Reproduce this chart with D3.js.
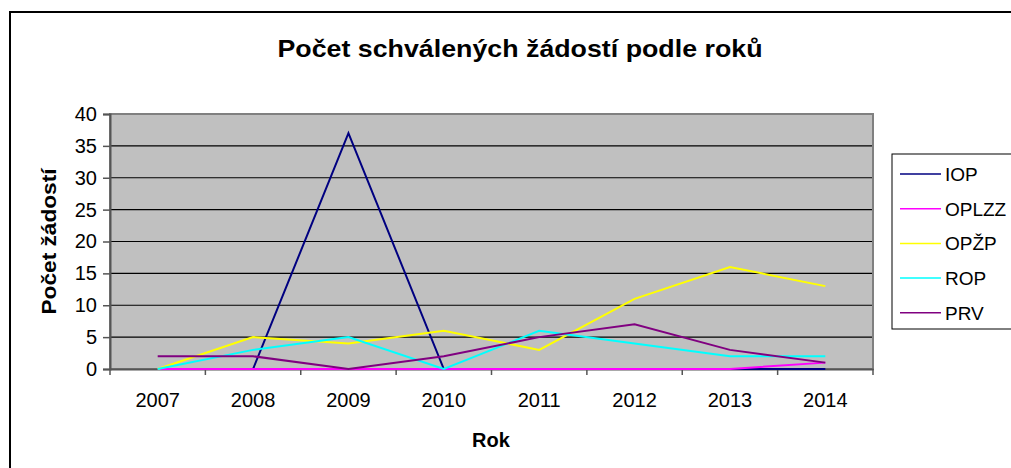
<!DOCTYPE html>
<html lang="cs">
<head>
<meta charset="UTF-8">
<title>Počet schválených žádostí podle roků</title>
<script src="https://d3js.org/d3.v7.min.js"></script>
<style>
  body { margin: 0; background: #fff; }
  svg { display: block; font-family: "Liberation Sans", Arial, sans-serif; }
</style>
</head>
<body>
<svg width="1011" height="468"></svg>
<script>
// data
var years = ["2007", "2008", "2009", "2010", "2011", "2012", "2013", "2014"];
var seriesNames = ["IOP", "OPLZZ", "OPŽP", "ROP", "PRV"];
var seriesColors = ["#000080", "#FF00FF", "#FFFF00", "#00FFFF", "#800080"];
var iop   = [0, 0, 37, 0, 0, 0, 0, 0];
var oplzz = [0, 0, 0, 0, 0, 0, 0, 1];
var opzp  = [0, 5, 4, 6, 3, 11, 16, 13];
var rop   = [0, 3, 5, 0, 6, 4, 2, 2];
var prv   = [2, 2, 0, 2, 5, 7, 3, 1];
var yTicks = [0, 5, 10, 15, 20, 25, 30, 35, 40];

var seriesValues = [iop, oplzz, opzp, rop, prv];

var svg = d3.select("svg");
var margin = { left: 110, top: 114, right: 138, bottom: 99 };
var width = 1011 - margin.left - margin.right;
var height = 468 - margin.top - margin.bottom;

// outer chart frame
svg.append("rect")
  .attr("x", 10).attr("y", 12)
  .attr("width", 1010).attr("height", 480)
  .attr("fill", "#fff").attr("stroke", "#000").attr("stroke-width", 2);

svg.append("text")
  .attr("x", 520).attr("y", 57)
  .attr("text-anchor", "middle")
  .attr("font-size", 24).attr("font-weight", "bold")
  .attr("textLength", 485).attr("lengthAdjust", "spacingAndGlyphs")
  .text("Počet schválených žádostí podle roků");

var x = d3.scaleBand().domain(years).range([0, width]);
var y = d3.scaleLinear().domain([0, 40]).range([height, 0]);

var g = svg.append("g")
  .attr("transform", "translate(" + margin.left + "," + margin.top + ")");

g.append("rect")
  .attr("width", width).attr("height", height)
  .attr("fill", "#C0C0C0");

// gridlines
g.selectAll(".grid")
  .data(yTicks.slice(1))
  .enter().append("line")
  .attr("x1", 0).attr("x2", width)
  .attr("y1", function(d) { return y(d); })
  .attr("y2", function(d) { return y(d); })
  .attr("stroke", "#000").attr("stroke-width", 1.2);

g.append("rect")
  .attr("width", width).attr("height", height)
  .attr("fill", "none").attr("stroke", "#808080").attr("stroke-width", 2);

// axes
var yAxis = g.append("g")
  .call(d3.axisLeft(y).tickValues(yTicks).tickSize(7).tickPadding(6));
var xAxis = g.append("g")
  .attr("transform", "translate(0," + height + ")")
  .call(d3.axisBottom(x).tickSize(0).tickPadding(24));

[yAxis, xAxis].forEach(function(a) {
  a.select(".domain").attr("stroke", "#555").attr("stroke-width", 2);
  a.selectAll("line").attr("stroke", "#555").attr("stroke-width", 1.5);
  a.selectAll("text").attr("font-size", 20).attr("fill", "#000")
    .attr("font-family", "Liberation Sans, Arial, sans-serif");
});

// ticks between categories on x axis
var bounds = years.map(function(d) { return x(d); }).concat([width]);
xAxis.selectAll(".sep")
  .data(bounds)
  .enter().append("line")
  .attr("x1", function(d) { return d; }).attr("x2", function(d) { return d; })
  .attr("y1", 0).attr("y2", 6)
  .attr("stroke", "#555").attr("stroke-width", 1.5);

// series lines
var line = d3.line()
  .x(function(d, i) { return x(years[i]) + x.bandwidth() / 2; })
  .y(function(d) { return y(d); });

seriesValues.forEach(function(vals, i) {
  g.append("path")
    .datum(vals)
    .attr("d", line)
    .attr("fill", "none")
    .attr("stroke", seriesColors[i])
    .attr("stroke-width", 2);
});

// axis titles
svg.append("text")
  .attr("transform", "translate(56," + (margin.top + height / 2) + ") rotate(-90)")
  .attr("text-anchor", "middle")
  .attr("font-size", 21).attr("font-weight", "bold")
  .attr("textLength", 146).attr("lengthAdjust", "spacingAndGlyphs")
  .text("Počet žádostí");

svg.append("text")
  .attr("x", 491).attr("y", 447)
  .attr("text-anchor", "middle")
  .attr("font-size", 20).attr("font-weight", "bold")
  .text("Rok");

// legend
var legend = svg.append("g").attr("transform", "translate(892,154)");
legend.append("rect")
  .attr("width", 140).attr("height", 175)
  .attr("fill", "#fff").attr("stroke", "#000").attr("stroke-width", 1);

var item = legend.selectAll(".item")
  .data(seriesNames)
  .enter().append("g")
  .attr("transform", function(d, i) { return "translate(0," + (20 + i * 34.7) + ")"; });
item.append("line")
  .attr("x1", 8).attr("x2", 49)
  .attr("stroke", function(d, i) { return seriesColors[i]; })
  .attr("stroke-width", 1.5);
item.append("text")
  .attr("x", 53).attr("dy", "0.36em")
  .attr("font-size", 19)
  .text(function(d) { return d; });
</script>
</body>
</html>
